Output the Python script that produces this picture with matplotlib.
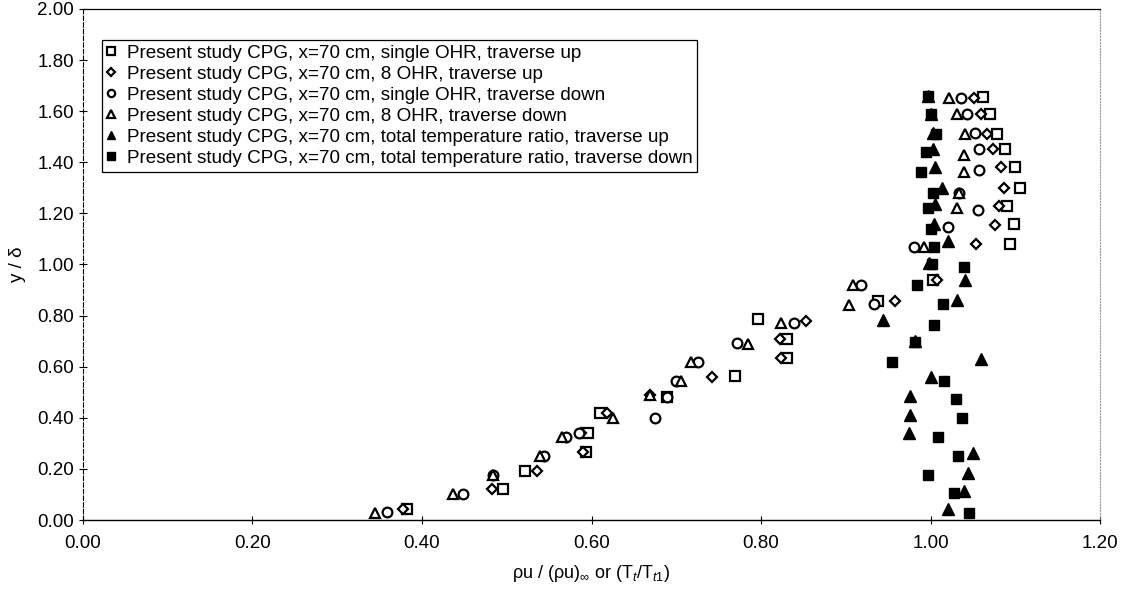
import numpy as np
import matplotlib.pyplot as plt

plt.rcParams['font.family'] = ['Liberation Sans', 'DejaVu Sans']
plt.rcParams['mathtext.fontset'] = 'custom'
plt.rcParams['mathtext.rm'] = 'Liberation Sans'
plt.rcParams['mathtext.it'] = 'Liberation Sans:italic'

# single OHR, traverse up
sq_x = [0.382, 0.496, 0.522, 0.594, 0.596, 0.610, 0.689, 0.769, 0.830, 0.830, 0.796,
        0.938, 1.003, 1.094, 1.098, 1.090, 1.105, 1.099, 1.088, 1.078, 1.070, 1.062]
sq_y = [0.043, 0.120, 0.193, 0.267, 0.342, 0.418, 0.483, 0.564, 0.633, 0.707, 0.786,
        0.858, 0.940, 1.080, 1.160, 1.230, 1.300, 1.380, 1.450, 1.510, 1.590, 1.657]

# 8 OHR, traverse up
dm_x = [0.378, 0.482, 0.536, 0.587, 0.590, 0.618, 0.669, 0.742, 0.824, 0.822, 0.853,
        0.958, 1.008, 1.053, 1.076, 1.081, 1.087, 1.083, 1.073, 1.066, 1.059, 1.051]
dm_y = [0.043, 0.120, 0.193, 0.342, 0.267, 0.418, 0.489, 0.561, 0.633, 0.707, 0.780,
        0.858, 0.940, 1.080, 1.155, 1.230, 1.300, 1.380, 1.450, 1.510, 1.590, 1.650]

# single OHR, traverse down
ci_x = [0.359, 0.448, 0.484, 0.544, 0.570, 0.585, 0.675, 0.689, 0.700, 0.726, 0.772,
        0.839, 0.933, 0.918, 0.980, 1.020, 1.056, 1.034, 1.057, 1.057, 1.052, 1.043, 1.036]
ci_y = [0.030, 0.103, 0.176, 0.250, 0.324, 0.342, 0.400, 0.483, 0.545, 0.620, 0.694,
        0.770, 0.845, 0.920, 1.070, 1.147, 1.215, 1.280, 1.370, 1.450, 1.513, 1.590, 1.650]

# 8 OHR, traverse down
ot_x = [0.345, 0.436, 0.484, 0.539, 0.565, 0.625, 0.669, 0.706, 0.717, 0.784, 0.824,
        0.904, 0.909, 0.992, 1.031, 1.034, 1.039, 1.039, 1.041, 1.031, 1.022]
ot_y = [0.026, 0.100, 0.176, 0.250, 0.324, 0.400, 0.489, 0.545, 0.620, 0.690, 0.770,
        0.841, 0.920, 1.070, 1.220, 1.280, 1.360, 1.430, 1.510, 1.590, 1.650]

# total temperature ratio, traverse up
ft_x = [1.021, 1.039, 1.044, 1.050, 0.974, 0.976, 0.976, 1.000, 1.060, 0.982, 0.944,
        1.031, 1.040, 0.998, 1.020, 1.004, 1.005, 1.013, 1.005, 1.003, 1.003, 1.001, 0.997]
ft_y = [0.042, 0.115, 0.185, 0.263, 0.339, 0.411, 0.485, 0.561, 0.629, 0.700, 0.784,
        0.860, 0.940, 1.005, 1.090, 1.160, 1.235, 1.300, 1.380, 1.450, 1.515, 1.590, 1.660]

# total temperature ratio, traverse down
fs_x = [1.045, 1.027, 0.997, 1.032, 1.009, 1.037, 1.030, 1.016, 0.955, 0.982, 1.004,
        1.015, 0.984, 1.039, 1.002, 1.004, 1.001, 0.997, 1.003, 0.989, 0.995, 1.006, 1.001, 0.997]
fs_y = [0.029, 0.104, 0.176, 0.250, 0.326, 0.398, 0.472, 0.545, 0.620, 0.698, 0.765,
        0.845, 0.920, 0.990, 1.000, 1.070, 1.140, 1.220, 1.280, 1.360, 1.440, 1.510, 1.590, 1.660]

labels = [
    'Present study CPG, x=70 cm, single OHR, traverse up',
    'Present study CPG, x=70 cm, 8 OHR, traverse up',
    'Present study CPG, x=70 cm, single OHR, traverse down',
    'Present study CPG, x=70 cm, 8 OHR, traverse down',
    'Present study CPG, x=70 cm, total temperature ratio, traverse up',
    'Present study CPG, x=70 cm, total temperature ratio, traverse down',
]

fig = plt.figure(figsize=(11.24, 5.95), dpi=100)
ax = fig.add_axes([0.0738, 0.126, 0.905, 0.859])

open_kw = dict(linestyle='none', markerfacecolor='white', markeredgecolor='black',
               markeredgewidth=1.6, color='black')
fill_kw = dict(linestyle='none', color='black', markeredgecolor='black')

ax.plot(sq_x, sq_y, marker='s', markersize=7, label=labels[0], **open_kw)
ax.plot(dm_x, dm_y, marker='D', markersize=5.5, label=labels[1], **open_kw)
ax.plot(ci_x, ci_y, marker='o', markersize=7, label=labels[2], **open_kw)
ax.plot(ot_x, ot_y, marker='^', markersize=7.5, label=labels[3], **open_kw)
ax.plot(ft_x, ft_y, marker='^', markersize=8, label=labels[4], **fill_kw)
ax.plot(fs_x, fs_y, marker='s', markersize=7, label=labels[5], **fill_kw)

ax.set_xlim(0, 1.2)
ax.set_ylim(0, 2.0)
ax.set_xticks(np.arange(0, 1.21, 0.2))
ax.set_yticks(np.arange(0, 2.01, 0.2))
ax.xaxis.set_major_formatter(plt.FormatStrFormatter('%.2f'))
ax.yaxis.set_major_formatter(plt.FormatStrFormatter('%.2f'))
ax.tick_params(direction='inout', length=6, width=0.8, labelsize=13.5, colors='black')
ax.tick_params(axis='x', pad=8)

ax.spines['top'].set_linewidth(0.9)
ax.spines['bottom'].set_linewidth(1.0)
ax.spines['left'].set_linewidth(0.8)
ax.spines['left'].set_linestyle((0, (4, 2)))
ax.spines['right'].set_linestyle(':')
ax.spines['right'].set_color('#999999')
ax.spines['right'].set_linewidth(0.8)

ax.set_xlabel(r'ρu / (ρu)$_{\infty}$ or (T$_{t}$/T$_{t1}$)', fontsize=13, labelpad=8)
ax.set_ylabel('y / δ', fontsize=13.5, labelpad=8)

leg = ax.legend(loc='upper left', bbox_to_anchor=(0.0187, 0.939), fontsize=13.6,
                frameon=True, fancybox=False, edgecolor='black', framealpha=1,
                borderpad=0.25, labelspacing=0.2, handlelength=0.5,
                handletextpad=0.55, borderaxespad=0, markerscale=0.75)
leg.get_frame().set_linewidth(0.9)

fig.savefig('out.png', dpi=100)
